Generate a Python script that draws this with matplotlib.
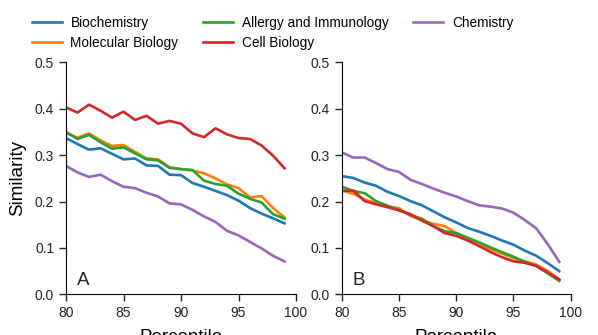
# Similarity vs percentile, two panels (A and B)

import matplotlib
matplotlib.use('Agg')
import matplotlib.pyplot as plt
import numpy as np

plt.rcParams['font.family'] = ['Liberation Sans', 'DejaVu Sans']

percentile = np.arange(80, 100)

# panel A values
a_biochem = [0.337, 0.324, 0.312, 0.315, 0.303, 0.291, 0.293, 0.278, 0.277, 0.258,
             0.257, 0.240, 0.232, 0.223, 0.214, 0.202, 0.186, 0.174, 0.164, 0.153]
a_molbio = [0.348, 0.338, 0.347, 0.332, 0.320, 0.322, 0.307, 0.293, 0.291, 0.274,
            0.270, 0.267, 0.261, 0.250, 0.237, 0.229, 0.209, 0.212, 0.186, 0.166]
a_allergy = [0.350, 0.335, 0.344, 0.328, 0.314, 0.317, 0.304, 0.291, 0.289, 0.273,
             0.270, 0.268, 0.245, 0.238, 0.234, 0.217, 0.206, 0.198, 0.173, 0.163]
a_cellbio = [0.403, 0.392, 0.409, 0.396, 0.381, 0.394, 0.376, 0.385, 0.368, 0.374,
             0.368, 0.347, 0.339, 0.358, 0.345, 0.337, 0.335, 0.321, 0.299, 0.272]
a_chem = [0.277, 0.263, 0.253, 0.258, 0.244, 0.232, 0.229, 0.219, 0.211, 0.196,
          0.194, 0.182, 0.168, 0.156, 0.137, 0.127, 0.113, 0.099, 0.083, 0.071]

# panel B values
b_biochem = [0.255, 0.251, 0.241, 0.234, 0.221, 0.212, 0.201, 0.192, 0.179, 0.166,
             0.155, 0.143, 0.135, 0.126, 0.116, 0.107, 0.094, 0.083, 0.067, 0.050]
b_molbio = [0.224, 0.217, 0.205, 0.196, 0.189, 0.186, 0.169, 0.160, 0.152, 0.147,
            0.132, 0.120, 0.110, 0.097, 0.088, 0.078, 0.071, 0.064, 0.050, 0.032]
b_allergy = [0.232, 0.223, 0.218, 0.201, 0.191, 0.182, 0.171, 0.163, 0.147, 0.136,
             0.132, 0.122, 0.112, 0.101, 0.091, 0.081, 0.070, 0.061, 0.045, 0.029]
b_cellbio = [0.223, 0.224, 0.201, 0.194, 0.188, 0.181, 0.173, 0.159, 0.147, 0.132,
             0.126, 0.116, 0.104, 0.091, 0.080, 0.071, 0.068, 0.061, 0.047, 0.032]
b_chem = [0.306, 0.295, 0.295, 0.283, 0.270, 0.264, 0.247, 0.238, 0.228, 0.219,
          0.211, 0.201, 0.192, 0.189, 0.185, 0.176, 0.160, 0.142, 0.108, 0.070]

names = ['Biochemistry', 'Molecular Biology', 'Allergy and Immunology', 'Cell Biology', 'Chemistry']
colors = ['#1f77b4', '#ff7f0e', '#2ca02c', '#d62728', '#9467bd']

fig = plt.figure(figsize=(5.98, 3.35), dpi=100)
axA = fig.add_axes([0.1104, 0.1215, 0.3846, 0.692])
axB = fig.add_axes([0.5714, 0.1215, 0.3830, 0.692])

panels = [(axA, 'A', [a_biochem, a_molbio, a_allergy, a_cellbio, a_chem]),
          (axB, 'B', [b_biochem, b_molbio, b_allergy, b_cellbio, b_chem])]

for ax, tag, series in panels:
    for name, col, vals in zip(names, colors, series):
        ax.plot(percentile, vals, color=col, lw=1.9, label=name)
    ax.set_xlim(80, 100)
    ax.set_ylim(0, 0.5)
    ax.set_xticks([80, 85, 90, 95, 100])
    ax.set_yticks([0.0, 0.1, 0.2, 0.3, 0.4, 0.5])
    ax.yaxis.set_major_formatter(matplotlib.ticker.FormatStrFormatter('%.1f'))
    ax.spines['top'].set_visible(False)
    ax.spines['right'].set_visible(False)
    ax.tick_params(direction='out', length=5, width=1, labelsize=10, colors='#222222', labelcolor='#222222')
    # label sits partly below the figure edge, as in the original
    ax.set_xlabel('Percentile', fontsize=13.5, labelpad=6.5)
    ax.text(0.048, 0.04, tag, transform=ax.transAxes, fontsize=13.5, color='#222222')

axA.set_ylabel('Similarity', fontsize=13.5, labelpad=6)

fig.legend(*axA.get_legend_handles_labels(), ncol=3, loc='upper left',
           bbox_to_anchor=(0.053, 0.952), frameon=False, fontsize=9.8,
           handlelength=2.2, handletextpad=0.65, columnspacing=1.8,
           labelspacing=0.45, borderpad=0, borderaxespad=0)

fig.savefig('out.png', dpi=100)
